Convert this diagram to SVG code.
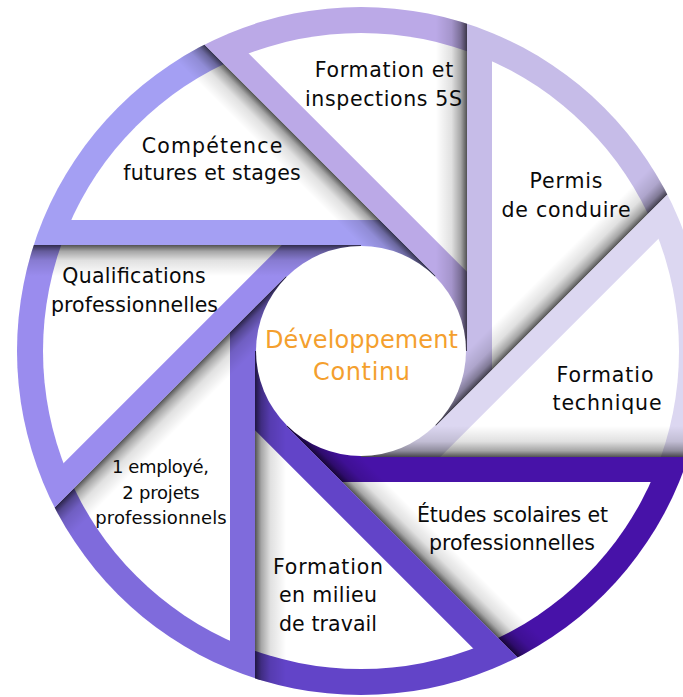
<svg xmlns="http://www.w3.org/2000/svg" xmlns:xlink="http://www.w3.org/1999/xlink" width="683" height="697" viewBox="0 0 683 697">
<style>
.lbl { font-family: "DejaVu Sans", "Liberation Sans", sans-serif; font-size: 20.5px; fill: #0a0a0a; text-anchor: middle; }
.sm { font-size: 18px; }
.ctr { font-size: 24px; fill: #F49F2E; }
.facefill { fill: #ffffff; }
.shadow { fill: url(#shade); }
</style>
<defs>
  <clipPath id="outer"><circle cx="0" cy="0" r="344"/></clipPath>
  <clipPath id="inner"><circle cx="0" cy="0" r="318"/></clipPath>
  <linearGradient id="shade" gradientUnits="userSpaceOnUse" x1="53" y1="53" x2="74.95" y2="74.95">
    <stop offset="0" stop-color="#000" stop-opacity="0"/>
    <stop offset="0.5" stop-color="#000" stop-opacity="0.12"/>
    <stop offset="0.8" stop-color="#000" stop-opacity="0.35"/>
    <stop offset="1" stop-color="#000" stop-opacity="0.68"/>
  </linearGradient>
  <path id="blade" d="M0,0 L106,0 L106,-400 L506,-400 L506,-356.09 L74.96,74.96 Z"/>
  <path id="face" d="M131,18.91 L131,-400 L506,-400 L506,-356.09 Z"/>
</defs>
<rect width="683" height="697" fill="#ffffff"/>

<g id="node-permis">
  <g transform="translate(361,351) rotate(0)" clip-path="url(#outer)">
    <use xlink:href="#blade" fill="#C6BCE8"/>
    <use xlink:href="#face" class="facefill" clip-path="url(#inner)"/>
    <use xlink:href="#blade" class="shadow"/>
  </g>
  <text class="lbl" x="566" y="188" textLength="73">Permis</text>
  <text class="lbl" x="566" y="216.5" textLength="129">de conduire</text>
</g>

<g id="node-technique">
  <g transform="translate(361,351) rotate(45)" clip-path="url(#outer)">
    <use xlink:href="#blade" fill="#DCD7F1"/>
    <use xlink:href="#face" class="facefill" clip-path="url(#inner)"/>
    <use xlink:href="#blade" class="shadow"/>
  </g>
  <text class="lbl" x="605" y="382" textLength="97">Formatio</text>
  <text class="lbl" x="607" y="410" textLength="109">technique</text>
</g>

<g id="node-etudes">
  <g transform="translate(361,351) rotate(90)" clip-path="url(#outer)">
    <use xlink:href="#blade" fill="#4712A8"/>
    <use xlink:href="#face" class="facefill" clip-path="url(#inner)"/>
    <use xlink:href="#blade" class="shadow"/>
  </g>
  <text class="lbl" x="512.5" y="522" textLength="191">Études scolaires et</text>
  <text class="lbl" x="512" y="550" textLength="166">professionnelles</text>
</g>

<g id="node-milieu">
  <g transform="translate(361,351) rotate(135)" clip-path="url(#outer)">
    <use xlink:href="#blade" fill="#6244C8"/>
    <use xlink:href="#face" class="facefill" clip-path="url(#inner)"/>
    <use xlink:href="#blade" class="shadow"/>
  </g>
  <text class="lbl" x="328" y="573.5" textLength="110">Formation</text>
  <text class="lbl" x="328" y="602" textLength="98">en milieu</text>
  <text class="lbl" x="328" y="631" textLength="98">de travail</text>
</g>

<g id="node-projets">
  <g transform="translate(361,351) rotate(180)" clip-path="url(#outer)">
    <use xlink:href="#blade" fill="#7F6BDC"/>
    <use xlink:href="#face" class="facefill" clip-path="url(#inner)"/>
    <use xlink:href="#blade" class="shadow"/>
  </g>
  <text class="lbl sm" x="160.5" y="473" textLength="97">1 employé,</text>
  <text class="lbl sm" x="161" y="498.5" textLength="77.5">2 projets</text>
  <text class="lbl sm" x="161" y="523.5" textLength="131.5">professionnels</text>
</g>

<g id="node-qualifications">
  <g transform="translate(361,351) rotate(225)" clip-path="url(#outer)">
    <use xlink:href="#blade" fill="#9A8CEE"/>
    <use xlink:href="#face" class="facefill" clip-path="url(#inner)"/>
    <use xlink:href="#blade" class="shadow"/>
  </g>
  <text class="lbl" x="134" y="283" textLength="143.5">Qualifications</text>
  <text class="lbl" x="134.5" y="311.5" textLength="167">professionnelles</text>
</g>

<g id="node-competence">
  <g transform="translate(361,351) rotate(270)" clip-path="url(#outer)">
    <use xlink:href="#blade" fill="#A49FF3"/>
    <use xlink:href="#face" class="facefill" clip-path="url(#inner)"/>
    <use xlink:href="#blade" class="shadow"/>
  </g>
  <text class="lbl" x="212" y="153" textLength="140.5">Compétence</text>
  <text class="lbl" x="212" y="180" textLength="177.5">futures et stages</text>
</g>

<g id="node-5s">
  <g transform="translate(361,351) rotate(315)" clip-path="url(#outer)">
    <use xlink:href="#blade" fill="#BBA9E7"/>
    <use xlink:href="#face" class="facefill" clip-path="url(#inner)"/>
    <use xlink:href="#blade" class="shadow"/>
  </g>
  <text class="lbl" x="384" y="77" textLength="138.5">Formation et</text>
  <text class="lbl" x="383.5" y="106" textLength="157">inspections 5S</text>
</g>

<g id="node-center">
  <circle cx="361" cy="351" r="105" fill="#ffffff"/>
  <text class="lbl ctr" x="361.5" y="348" textLength="193">Développement</text>
  <text class="lbl ctr" x="361.5" y="380" textLength="97">Continu</text>
</g>

<g id="connectors"></g>
</svg>
